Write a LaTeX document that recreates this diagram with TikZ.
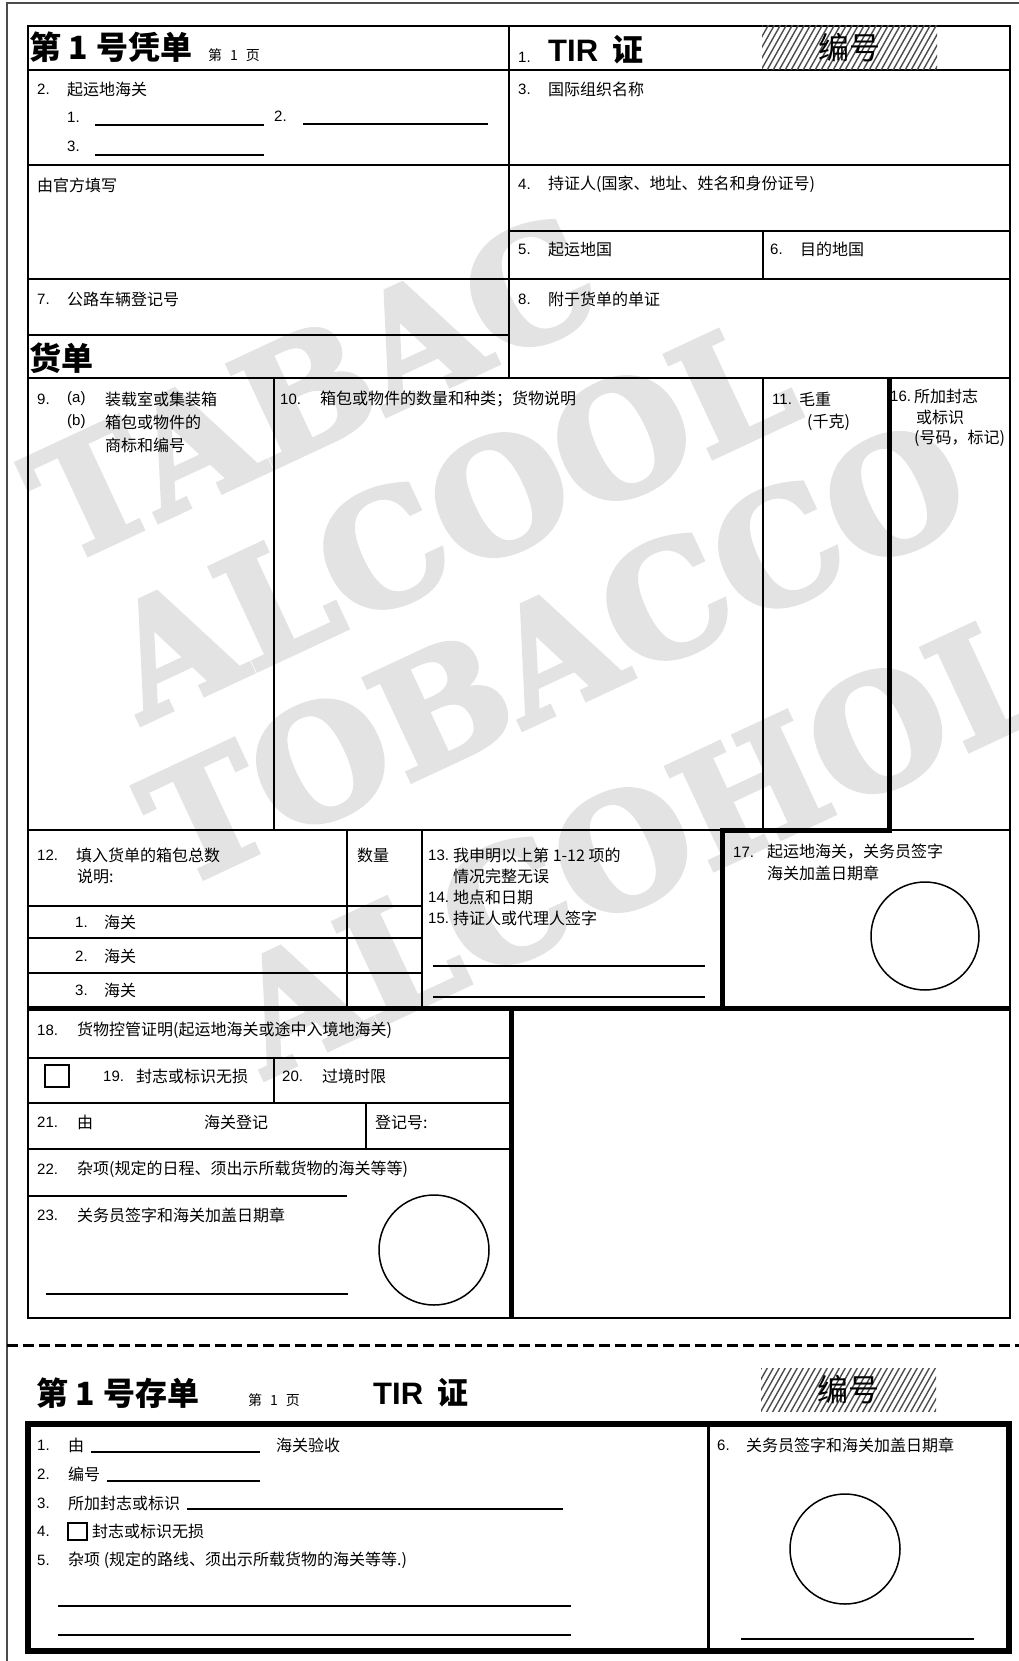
\documentclass[tikz,border=0pt]{standalone}
\usepackage{fontspec}
\setmainfont{Liberation Sans}
\newfontfamily\cjk{Noto Sans CJK SC}
\newfontfamily\wmf{DejaVu Serif}[FakeBold=3]
\begin{document}
\begin{tikzpicture}[x=1pt,y=-1pt,
  ln/.style={line width=2pt},
  tk/.style={line width=5pt,line join=miter},
  num/.style={anchor=west,inner sep=0pt,font=\fontsize{15}{18}\selectfont},
  cj/.style={anchor=west,inner sep=0pt,font=\cjk\fontsize{16}{19}\selectfont},
  sm/.style={anchor=west,inner sep=0pt,font=\cjk\fontsize{14}{16}\selectfont},
  ttl/.style={anchor=west,inner sep=0pt,font=\cjk\bfseries\fontsize{32}{37}\selectfont},
  wm/.style={text=black!11,inner sep=0pt,font=\wmf\bfseries\fontsize{155}{155}\selectfont,rotate=25},
  hatch/.style={line width=1.4pt,black!70}]
\useasboundingbox (0,0) rectangle (1019,1661);
% watermark
\node[wm] (w1) at (312,388) {TABAC};
\node[wm] (w2) at (450,518) {ALCOOL};
\node[wm] (w3) at (555,652) {TOBACCO};
\node[wm] (w4) at (640,842) {ALCOHOL};
% page frame
\draw[line width=1.5pt,black!70] (7,1661) -- (7,3) -- (1019,3);
% ---------- upper form ----------
\draw[ln] (28,26) rectangle (1010,1318);
\draw[ln] (28,70) -- (1010,70);
\draw[ln] (509,26) -- (509,378);
\draw[ln] (28,165) -- (1010,165);
\draw[ln] (509,231) -- (1010,231);
\draw[ln] (28,279) -- (1010,279);
\draw[ln] (763,231) -- (763,279);
\draw[ln] (28,335) -- (509,335);
\draw[ln] (28,378) -- (1010,378);
\draw[ln] (274,378) -- (274,830);
\draw[ln] (763,378) -- (763,830);
\draw[ln] (28,830) -- (1010,830);
\draw[tk] (889,378) -- (889,830) -- (722,830) -- (722,1008);
% row 12
\draw[ln] (347,830) -- (347,1008);
\draw[ln] (422,830) -- (422,1008);
\draw[ln] (28,906) -- (422,906);
\draw[ln] (28,938) -- (422,938);
\draw[ln] (28,973) -- (422,973);
\draw[ln] (433,966) -- (705,966);
\draw[ln] (433,997) -- (705,997);
\draw[line width=1.5pt] (925,936) circle[radius=54];
% lower part
\draw[tk] (27,1008) -- (1011,1008);
\draw[tk] (511,1008) -- (511,1317);
\draw[ln] (28,1058) -- (511,1058);
\draw[ln] (274,1058) -- (274,1103);
\draw[ln] (28,1103) -- (511,1103);
\draw[ln] (366,1103) -- (366,1149);
\draw[ln] (28,1149) -- (511,1149);
\draw[ln] (28,1196) -- (347,1196);
\draw[line width=1.5pt] (46,1294) -- (348,1294);
\draw[line width=1.5pt] (434,1250) circle[radius=55];
\draw[line width=1.5pt] (45,1065) rectangle (69,1087);
% address lines row 2
\draw[ln] (95,125) -- (264,125);
\draw[ln] (303,124) -- (488,124);
\draw[ln] (95,155) -- (264,155);
% hatched number box (top)
\begin{scope}
\clip (762,26) rectangle (937,70);
\foreach \x in {730,736,...,940} \draw[hatch] (\x,72) -- ++(27,-48);
\end{scope}
\node[anchor=center,inner sep=0pt,font=\cjk\fontsize{31}{36}\selectfont] (bh1) at (849,48) {编号};
% texts upper
\node[ttl] (t1) at (29,47) {第\hspace{0.22em}1\hspace{0.28em}号凭单};
\node[sm] (p1) at (208,55) {第\hspace{8pt}1\hspace{8pt}页};
\node[num] (n1) at (518,57) {1.};
\node[anchor=west,inner sep=0pt,font=\bfseries\fontsize{31}{36}\selectfont] (tir1) at (548,50) {TIR\hspace{0.45em}{\cjk 证}};
\node[num] (a2) at (37,89) {2.};
\node[cj] (a2t) at (67,89) {起运地海关};
\node[num] (a21) at (67,117) {1.};
\node[num] (a22) at (274,116) {2.};
\node[num] (a23) at (67,146) {3.};
\node[num] (b3) at (518,89) {3.};
\node[cj] (b3t) at (548,89) {国际组织名称};
\node[cj] (c1) at (37,185) {由官方填写};
\node[num] (b4) at (518,184) {4.};
\node[cj] (b4t) at (548,184) {持证人(国家、地址、姓名和身份证号)};
\node[num] (b5) at (518,249) {5.};
\node[cj] (b5t) at (548,249) {起运地国};
\node[num] (b6) at (770,249) {6.};
\node[cj] (b6t) at (800,249) {目的地国};
\node[num] (a7) at (37,299) {7.};
\node[cj] (a7t) at (67,299) {公路车辆登记号};
\node[num] (b8) at (518,299) {8.};
\node[cj] (b8t) at (548,299) {附于货单的单证};
\node[ttl] (hd) at (29,358) {货单};
\node[num] (i9) at (37,399) {9.};
\node[num] (i9a) at (67,399) {(a)};
\node[cj] (i9at) at (105,399) {装载室或集装箱};
\node[num] (i9b) at (67,422) {(b)};
\node[cj] (i9bt) at (105,422) {箱包或物件的};
\node[cj] (i9c) at (105,445) {商标和编号};
\node[num] (i10) at (280,399) {10.};
\node[cj] (i10t) at (320,399) {箱包或物件的数量和种类；货物说明};
\node[num] (i11) at (772,399) {11.};
\node[cj] (i11t) at (799,399) {毛重};
\node[cj] (i11b) at (807,422) {(千克)};
\node[num] (i16) at (890,396) {16.};
\node[cj] (i16t) at (914,396) {所加封志};
\node[cj] (i16b) at (916,417) {或标识};
\node[cj] (i16c) at (914,438) {(号码，标记)};
\node[num] (r12) at (37,855) {12.};
\node[cj] (r12t) at (76,855) {填入货单的箱包总数};
\node[cj] (r12b) at (77,876) {说明:};
\node[cj] (r12q) at (357,855) {数量};
\node[num] (r121) at (75,922) {1.};
\node[cj] (r121t) at (104,922) {海关};
\node[num] (r122) at (75,956) {2.};
\node[cj] (r122t) at (104,956) {海关};
\node[num] (r123) at (75,990) {3.};
\node[cj] (r123t) at (104,990) {海关};
\node[num] (r13) at (428,855) {13.};
\node[cj] (r13t) at (453,855) {我申明以上第 1-12 项的};
\node[cj] (r13b) at (453,876) {情况完整无误};
\node[num] (r14) at (428,897) {14.};
\node[cj] (r14t) at (453,897) {地点和日期};
\node[num] (r15) at (428,918) {15.};
\node[cj] (r15t) at (453,918) {持证人或代理人签字};
\node[num] (r17) at (733,852) {17.};
\node[cj] (r17t) at (767,852) {起运地海关，关务员签字};
\node[cj] (r17b) at (767,873) {海关加盖日期章};
\node[num] (s18) at (37,1030) {18.};
\node[cj] (s18t) at (77,1030) {货物控管证明(起运地海关或途中入境地海关)};
\node[num] (s19) at (103,1076) {19.};
\node[cj] (s19t) at (136,1076) {封志或标识无损};
\node[num] (s20) at (282,1076) {20.};
\node[cj] (s20t) at (322,1076) {过境时限};
\node[num] (s21) at (37,1122) {21.};
\node[cj] (s21a) at (77,1122) {由};
\node[cj] (s21b) at (204,1122) {海关登记};
\node[cj] (s21c) at (375,1122) {登记号:};
\node[num] (s22) at (37,1169) {22.};
\node[cj] (s22t) at (77,1169) {杂项(规定的日程、须出示所载货物的海关等等)};
\node[num] (s23) at (37,1215) {23.};
\node[cj] (s23t) at (77,1215) {关务员签字和海关加盖日期章};
% ---------- tear-off ----------
\draw[line width=3pt,dash pattern=on 11pt off 5pt] (7,1345) -- (1019,1345);
\node[ttl] (t2) at (36,1393) {第\hspace{0.22em}1\hspace{0.28em}号存单};
\node[sm] (p2) at (248,1400) {第\hspace{8pt}1\hspace{8pt}页};
\node[anchor=west,inner sep=0pt,font=\bfseries\fontsize{31}{36}\selectfont] (tir2) at (373,1393) {TIR\hspace{0.45em}{\cjk 证}};
\begin{scope}
\clip (761,1368) rectangle (936,1411);
\foreach \x in {730,736,...,940} \draw[hatch] (\x,1413) -- ++(27,-48);
\end{scope}
\node[anchor=center,inner sep=0pt,font=\cjk\fontsize{31}{36}\selectfont] (bh2) at (848,1390) {编号};
\draw[line width=5.5pt,line cap=rect] (28,1424) rectangle (1009,1651);
\draw[line width=3pt] (708,1424) -- (708,1651);
\node[num] (u1) at (37,1445) {1.};
\node[cj] (u1t) at (68,1445) {由};
\draw[ln] (91,1452) -- (260,1452);
\node[cj] (u1b) at (276,1445) {海关验收};
\node[num] (u2) at (37,1474) {2.};
\node[cj] (u2t) at (68,1474) {编号};
\draw[ln] (107,1481) -- (260,1481);
\node[num] (u3) at (37,1503) {3.};
\node[cj] (u3t) at (68,1503) {所加封志或标识};
\draw[ln] (187,1509) -- (563,1509);
\node[num] (u4) at (37,1531) {4.};
\draw[line width=1.5pt] (68,1523) rectangle (87,1540);
\node[cj] (u4t) at (92,1531) {封志或标识无损};
\node[num] (u5) at (37,1560) {5.};
\node[cj] (u5t) at (68,1560) {杂项 (规定的路线、须出示所载货物的海关等等.)};
\draw[ln] (58,1606) -- (571,1606);
\draw[ln] (58,1635) -- (571,1635);
\node[num] (u6) at (717,1445) {6.};
\node[cj] (u6t) at (746,1445) {关务员签字和海关加盖日期章};
\draw[line width=1.5pt] (845,1549) circle[radius=55];
\draw[ln] (741,1639) -- (974,1639);
\end{tikzpicture}
\end{document}
